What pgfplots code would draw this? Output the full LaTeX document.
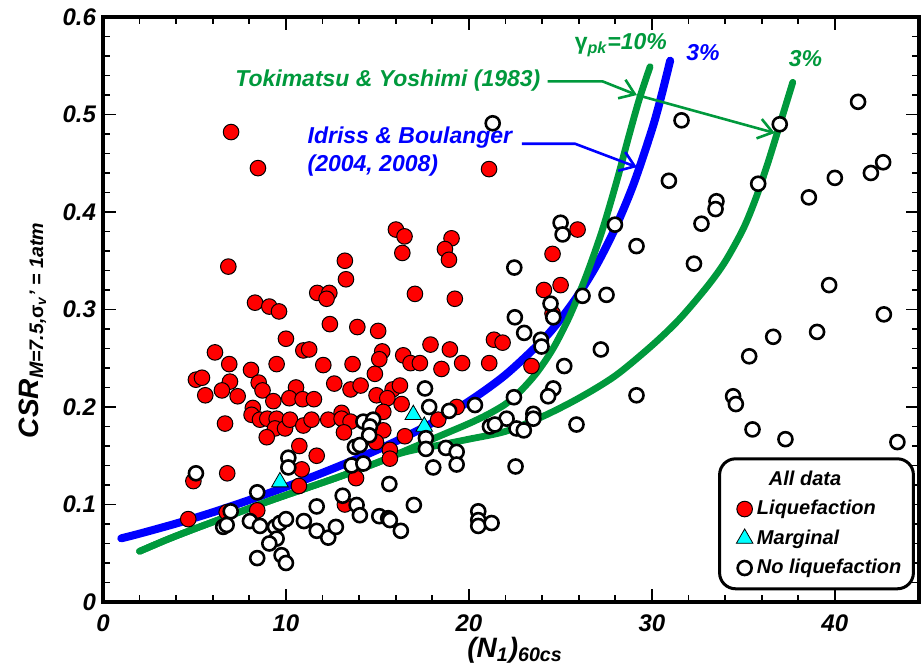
\documentclass[border=0pt]{standalone}
\usepackage{fontspec}
\setmainfont{Liberation Sans}
\usepackage{pgfplots}
\usepackage{pgfplotstable}
\pgfplotsset{compat=1.18}
\usetikzlibrary{arrows.meta}
\definecolor{tygreen}{RGB}{0,153,60}
\definecolor{ibblue}{RGB}{0,0,255}
\definecolor{liqred}{RGB}{255,0,0}
\definecolor{margcyan}{RGB}{0,255,255}

\pgfplotstableread{
x y
7.00 0.482
8.47 0.445
21.10 0.444
6.85 0.344
8.31 0.307
9.09 0.303
9.62 0.298
11.71 0.317
12.37 0.317
12.22 0.311
12.40 0.285
10.00 0.270
6.12 0.256
10.95 0.258
11.27 0.259
6.90 0.244
9.49 0.244
12.04 0.243
8.09 0.238
5.08 0.228
5.41 0.230
6.94 0.226
8.51 0.225
8.72 0.217
10.55 0.220
12.64 0.224
5.59 0.212
6.50 0.217
7.36 0.211
9.31 0.206
10.18 0.209
10.91 0.208
11.53 0.208
8.19 0.199
16.01 0.382
16.48 0.375
16.36 0.358
19.05 0.373
18.69 0.362
18.91 0.351
13.22 0.350
13.28 0.331
17.05 0.316
19.23 0.311
13.90 0.282
15.04 0.278
17.90 0.264
18.96 0.259
15.26 0.257
15.10 0.249
16.41 0.253
16.81 0.245
17.32 0.245
18.50 0.239
19.63 0.245
13.64 0.244
14.86 0.234
13.53 0.218
14.08 0.222
14.95 0.212
15.83 0.218
16.23 0.222
15.54 0.209
16.32 0.203
15.32 0.195
19.33 0.200
13.04 0.194
6.67 0.183
8.12 0.192
8.58 0.187
8.98 0.188
9.49 0.188
9.40 0.178
9.95 0.178
10.22 0.187
10.95 0.181
11.40 0.187
12.31 0.187
8.95 0.169
10.73 0.160
11.68 0.150
10.86 0.136
6.79 0.132
4.94 0.124
10.71 0.119
4.66 0.085
8.43 0.094
6.76 0.092
13.04 0.188
13.53 0.185
13.17 0.174
15.32 0.176
14.92 0.164
16.50 0.170
15.68 0.156
15.68 0.147
18.32 0.187
13.83 0.127
13.22 0.100
21.37 0.269
21.84 0.266
23.42 0.242
21.11 0.245
25.94 0.382
24.57 0.357
24.10 0.320
25.01 0.325
24.57 0.296
}\liqdata

\pgfplotstableread{
x y
9.67 0.123
16.96 0.192
17.56 0.180
}\margdata

\pgfplotstableread{
x y
21.30 0.491
17.60 0.219
17.83 0.200
18.92 0.196
20.33 0.202
5.08 0.132
10.13 0.148
10.13 0.138
8.43 0.1125
6.98 0.093
6.57 0.077
6.76 0.079
8.03 0.083
8.58 0.078
9.40 0.077
9.67 0.081
10.00 0.085
9.49 0.065
9.09 0.060
8.43 0.045
9.76 0.048
10.00 0.040
11.68 0.098
10.98 0.083
11.68 0.073
12.31 0.066
14.23 0.185
14.77 0.187
14.59 0.180
14.55 0.171
13.77 0.159
14.04 0.161
13.59 0.140
14.23 0.142
15.65 0.121
13.10 0.109
13.86 0.0995
14.04 0.089
12.73 0.077
15.10 0.088
15.59 0.086
15.68 0.084
16.28 0.073
16.99 0.0995
17.65 0.168
17.65 0.157
18.05 0.138
18.74 0.158
19.33 0.154
19.33 0.141
20.51 0.093
20.51 0.084
20.51 0.078
21.24 0.081
22.51 0.292
23.02 0.276
23.93 0.269
23.97 0.262
24.61 0.292
24.46 0.306
26.21 0.314
27.52 0.315
27.21 0.259
25.21 0.242
22.46 0.210
24.61 0.219
24.33 0.211
29.16 0.212
22.06 0.188
21.15 0.180
21.42 0.182
22.60 0.178
23.00 0.176
23.52 0.193
23.52 0.188
25.88 0.182
22.55 0.139
25.01 0.389
25.12 0.377
22.48 0.343
27.98 0.387
29.16 0.365
31.62 0.494
36.99 0.490
41.27 0.513
30.93 0.432
35.81 0.429
40.00 0.435
41.97 0.440
42.64 0.451
38.58 0.415
33.53 0.411
33.48 0.403
32.71 0.388
32.30 0.347
39.69 0.325
42.68 0.295
39.03 0.277
36.63 0.272
35.32 0.252
34.44 0.211
34.59 0.203
35.50 0.177
37.30 0.167
43.42 0.164
}\noliqdata

\begin{document}
\begin{tikzpicture}
\path[use as bounding box] (-51.5pt,-35pt) rectangle (409pt,301pt);
\begin{axis}[
  at={(0,0)}, anchor=south west,
  scale only axis, width=408pt, height=292.5pt,
  xmin=0, xmax=44.6, ymin=0, ymax=0.6,
  axis line style={line width=2pt},
  xtick={0,10,20,30,40}, minor x tick num=4,
  ytick={0,0.1,0.2,0.3,0.4,0.5,0.6}, minor y tick num=4,
  tick align=inside,
  major tick length=6.5pt, minor tick length=3.5pt,
  every tick/.style={black, line width=0.9pt},
  ticklabel style={font=\fontsize{12}{14}\selectfont\bfseries\itshape},
  /pgf/number format/assume math mode=true,
  yticklabel style={/pgf/number format/fixed, /pgf/number format/precision=1},
  xticklabel style={yshift=-3pt},
  xlabel={(N\textsubscript{1})\textsubscript{60cs}},
  xlabel style={at={(axis description cs:0.505,-0.082)}, anchor=center, font=\fontsize{14}{16}\selectfont\bfseries\itshape},
  ylabel={CSR\textsubscript{M=7.5,{\upshape σ}\textsubscript{v}' = 1atm}},
  ylabel style={at={(axis description cs:-0.086,0.465)}, anchor=center, font=\fontsize{14}{16}\selectfont\bfseries\itshape},
  legend style={at={(rel axis cs:0.995,0.02)}, anchor=south east, draw=black, line width=1.5pt,
    rounded corners=8pt, font=\fontsize{10}{12}\selectfont\bfseries\itshape,
    inner xsep=4pt, inner ysep=4pt, row sep=2pt,
    /tikz/every even column/.append style={column sep=7pt}},
  legend cell align=left,
  clip=false,
]
\addlegendimage{empty legend}
\addlegendentry{\hspace{6pt}All data}

% Idriss & Boulanger
\addplot[ibblue, line width=4pt, smooth, line cap=round, forget plot] coordinates {
(1,0.0653) (2,0.0701) (4,0.0805) (6,0.0920) (8,0.1046) (10,0.1181) (12,0.1325)
(14,0.1479) (16,0.1647) (18,0.1837) (20,0.2058) (22,0.2330) (24,0.2680)
(25,0.2898) (26,0.3156) (27,0.3463) (28,0.3836) (29,0.4286) (30,0.4843)
(30.5,0.5177) (31,0.5552)};
% Tokimatsu & Yoshimi 10%
\addplot[tygreen, line width=3.4pt, smooth, line cap=round, forget plot] coordinates {
(2.0,0.052) (3.5,0.064) (5.0,0.075) (7.0,0.089) (9.0,0.103) (11.0,0.116)
(13.0,0.129) (15.0,0.143) (16.0,0.151) (17.0,0.159) (18.0,0.167) (19.0,0.175)
(20.0,0.183) (21.0,0.192) (22.0,0.203) (22.8,0.216) (23.7,0.235) (24.6,0.260)
(25.5,0.293) (26.4,0.334) (27.3,0.382) (28.1,0.433) (28.7,0.475) (29.3,0.515)
(29.9,0.549)};
% Tokimatsu & Yoshimi 3%
\addplot[tygreen, line width=3.4pt, smooth, line cap=round, forget plot] coordinates {
(2.0,0.052) (3.5,0.064) (5.0,0.075) (7.0,0.089) (9.0,0.103) (11.0,0.116)
(13.0,0.129) (15.0,0.143) (16.0,0.151) (17.0,0.156) (18.4,0.161) (20.0,0.167)
(22.0,0.175) (24.0,0.190) (26.0,0.209) (28.0,0.232) (30.0,0.263) (31.5,0.290)
(33.0,0.323) (34.0,0.349) (35.0,0.383) (35.7,0.415) (36.3,0.448) (36.8,0.478)
(37.7,0.533)};

\addplot[only marks, mark=*, mark size=3.9pt,
  mark options={fill=liqred, draw=black, line width=0.5pt}] table {\liqdata};
\addlegendentry{Liquefaction}
\addplot[only marks, mark=triangle*, mark size=4.8pt,
  mark options={fill=margcyan, draw=black, line width=0.4pt, sharp corners}] table {\margdata};
\addlegendentry{Marginal}
\addplot[only marks, mark=*, mark size=3.5pt,
  mark options={fill=white, draw=black, line width=1.3pt}] table {\noliqdata};
\addlegendentry{No liquefaction}

% annotations
\node[tygreen, font=\fontsize{11.5}{13}\selectfont\bfseries\itshape, anchor=center] at (axis cs:15.57,0.535) {Tokimatsu \& Yoshimi (1983)};
\draw[tygreen, line width=1.3pt, -{Straight Barb[length=7pt,width=10pt]}] (axis cs:24.3,0.534) -- (axis cs:27.3,0.534) -- (axis cs:29.18,0.520);
\draw[tygreen, line width=1.3pt, -{Straight Barb[length=7pt,width=10pt]}] (axis cs:29.18,0.520) -- (axis cs:36.72,0.481);
\node[ibblue, font=\fontsize{11.5}{14}\selectfont\bfseries\itshape, anchor=west, align=left] at (axis cs:10.8,0.462) {Idriss \& Boulanger\\(2004, 2008)};
\draw[ibblue, line width=1.3pt, -{Straight Barb[length=7pt,width=10pt]}] (axis cs:22.9,0.470) -- (axis cs:25.8,0.470) -- (axis cs:29.18,0.446);
\node[tygreen, font=\fontsize{11.5}{13}\selectfont\bfseries\itshape, anchor=west] at (axis cs:25.4,0.571) {{\upshape γ}\textsubscript{pk}=10\%};
\node[ibblue, font=\fontsize{11.5}{13}\selectfont\bfseries\itshape, anchor=west] at (axis cs:31.5,0.564) {3\%};
\node[tygreen, font=\fontsize{11.5}{13}\selectfont\bfseries\itshape, anchor=west] at (axis cs:37.1,0.557) {3\%};
\end{axis}
\end{tikzpicture}
\end{document}
